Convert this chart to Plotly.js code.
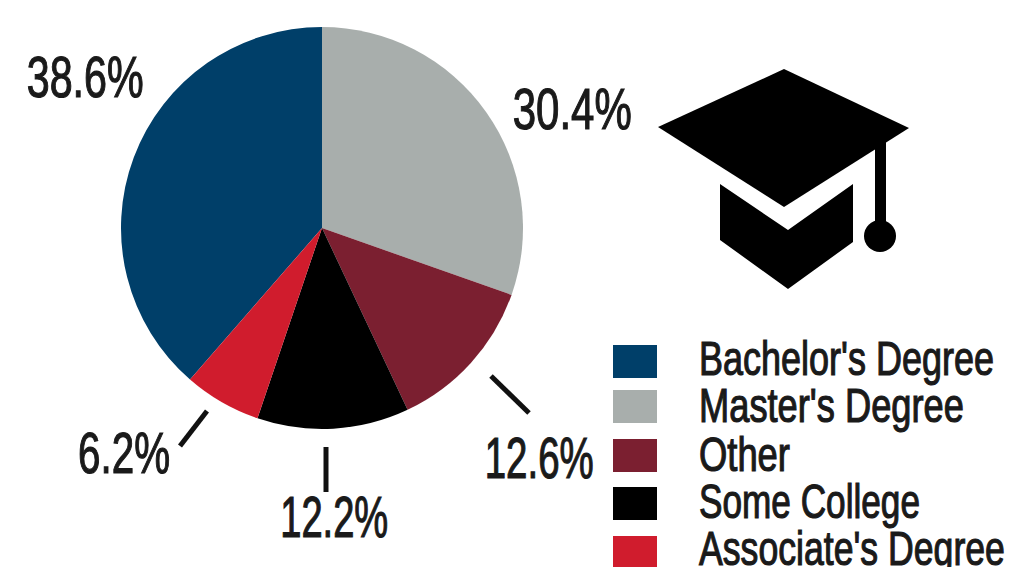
<!DOCTYPE html>
<html>
<head>
<meta charset="utf-8">
<script src="https://cdn.plot.ly/plotly-3.0.1.min.js"></script>
<style>html,body{margin:0;padding:0;background:#fff;overflow:hidden}</style>
</head>
<body>
<div id="chart" style="width:1010px;height:567px"></div>
<script>
// Highest degree earned, share of respondents
const categories = ["Bachelor's Degree", "Master's Degree", "Other", "Some College", "Associate's Degree"];
const shares = [38.6, 30.4, 12.6, 12.2, 6.2];
const colors = ["#003f69", "#a8aeac", "#7b1f30", "#000000", "#d01c2d"];

const W = 1010, H = 567;
const X = v => v / W;
const Y = v => 1 - v / H;
const FONT = "'Liberation Sans',Arial,sans-serif";

// Percentage label centres and their leader lines, in page pixels
const labelCentres = [[85, 76], [572, 109], [539, 457], [334, 516], [124, 452]];
const leaders = [null, null, [[491, 376], [529, 413]], [[326, 447], [326, 492]], [[207, 411], [180, 446]]];

// Legend rows
const swatchTops = [345, 390, 439, 487, 536];
const swatchBottoms = [378, 423, 472, 520, 567];
const legendTextY = [358, 405, 454, 501, 548];

// Condensed setting: rendered width of each label, in pixels
const legendWidths = [295, 265, 91, 221, 306];
const percentWidths = [117, 119, 109, 108, 92];

const poly = pts => "M" + pts.map(p => X(p[0]) + "," + Y(p[1])).join("L") + "Z";

const shapes = [];
const annotations = [];

categories.forEach((name, i) => {
  shapes.push({type: "rect", xref: "paper", yref: "paper", layer: "above",
    x0: X(613), x1: X(657), y0: Y(swatchBottoms[i]), y1: Y(swatchTops[i]),
    fillcolor: colors[i], line: {width: 0}});
  annotations.push({xref: "paper", yref: "paper", x: X(697), y: Y(legendTextY[i]),
    xanchor: "left", yanchor: "middle", showarrow: false, text: name,
    font: {family: FONT, size: 48, color: "#1a1a1a"}});
  annotations.push({xref: "paper", yref: "paper", x: X(labelCentres[i][0]), y: Y(labelCentres[i][1]),
    xanchor: "center", yanchor: "middle", showarrow: false, text: shares[i].toFixed(1) + "%",
    font: {family: FONT, size: 58, color: "#1a1a1a"}});
  if (leaders[i]) {
    const [a, b] = leaders[i];
    shapes.push({type: "line", xref: "paper", yref: "paper",
      x0: X(a[0]), y0: Y(a[1]), x1: X(b[0]), y1: Y(b[1]),
      line: {color: "#111", width: 5}});
  }
});

// Graduation cap icon
const board = [[784, 69], [909, 128], [784, 207], [658, 127]];
const crown = [[720, 184], [788, 230], [853, 184], [853, 242], [788, 289], [720, 240]];
const cord = [[875, 140], [886, 133], [886, 225], [875, 225]];
[board, crown, cord].forEach(pts => shapes.push({type: "path", xref: "paper", yref: "paper",
  path: poly(pts), fillcolor: "#000", line: {width: 0}}));
shapes.push({type: "circle", xref: "paper", yref: "paper",
  x0: X(864), x1: X(896), y0: Y(252), y1: Y(220), fillcolor: "#000", line: {width: 0}});

Plotly.newPlot("chart", [{
  type: "pie",
  labels: categories,
  values: shares,
  sort: false,
  direction: "clockwise",
  rotation: -shares[0] * 3.6,
  textinfo: "none",
  hoverinfo: "label+percent",
  marker: {colors: colors, line: {width: 0}},
  domain: {x: [X(121), X(523)], y: [Y(429), Y(27)]}
}], {
  width: W, height: H,
  margin: {l: 0, r: 0, t: 0, b: 0},
  paper_bgcolor: "#fff",
  showlegend: false,
  shapes: shapes,
  annotations: annotations
}, {displayModeBar: false, staticPlot: true}).then(() => {
  // Narrow each annotation around its anchor: legend text keeps its left edge, percentages their centre
  document.querySelectorAll("#chart .annotation-text").forEach(el => {
    const label = el.textContent;
    const legendRow = categories.indexOf(label);
    const isLegend = legendRow >= 0;
    const box = el.getBBox();
    const pivot = isLegend ? box.x : box.x + box.width / 2;
    const target = isLegend ? legendWidths[legendRow]
      : percentWidths[shares.findIndex(v => v.toFixed(1) + "%" === label)];
    const k = target / box.width;
    el.setAttribute("transform", `translate(${pivot},0) scale(${k},1) translate(${-pivot},0)`);
    el.style.stroke = "#1a1a1a";
    el.style.strokeWidth = "1.2px";
  });
});
</script>
</body>
</html>
